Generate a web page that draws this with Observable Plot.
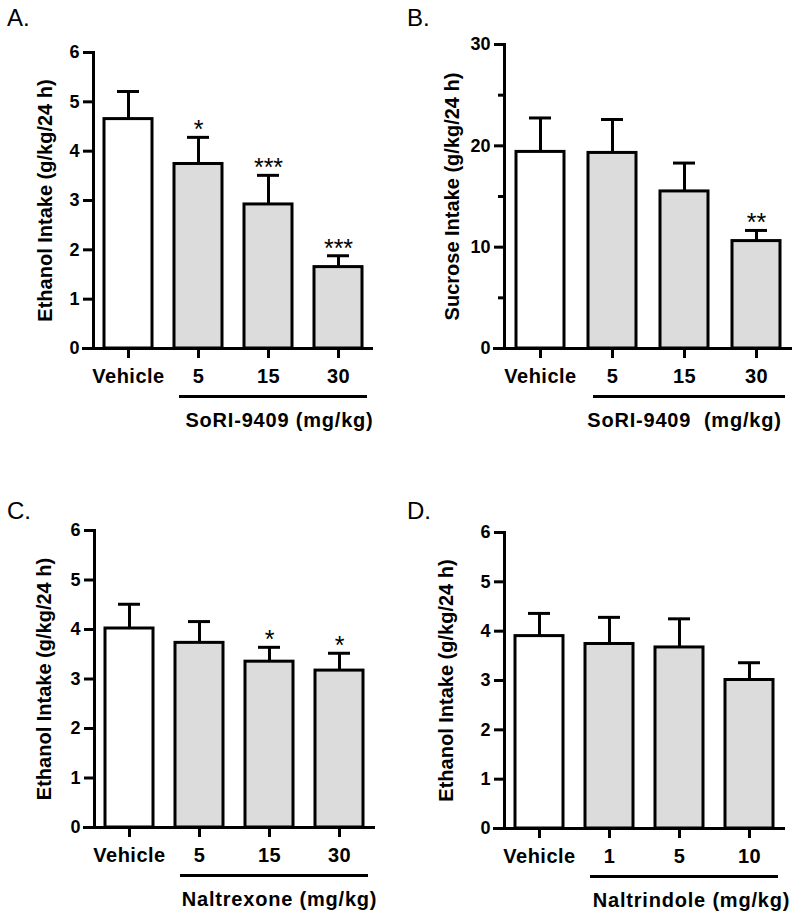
<!DOCTYPE html>
<html>
<head>
<meta charset="utf-8">
<script src="https://cdn.jsdelivr.net/npm/d3@7"></script>
<script src="https://cdn.jsdelivr.net/npm/@observablehq/plot@0.6"></script>
<style>
  html, body { margin: 0; padding: 0; background: #fff; }
  #root { position: relative; width: 800px; height: 916px; background: #fff; overflow: hidden; }
  .panel { position: absolute; }
  .letter { position: absolute; font-family: "Liberation Sans", Arial, sans-serif; font-size: 24px; line-height: 24px; color: #000; }
  .panel svg g[aria-label="x-axis tick label"] text { letter-spacing: 0.5px; }
  .panel svg .grp text { letter-spacing: 0.8px; }
</style>
</head>
<body>
<div id="root"></div>
<script>
// ---- data ----
const catsA = ["Vehicle", "5", "15", "30"];
const meansA = [4.65, 3.74, 2.92, 1.65];
const semA = [0.56, 0.54, 0.59, 0.23];
const starsA = ["", "*", "***", "***"];

const catsB = ["Vehicle", "5", "15", "30"];
const meansB = [19.4, 19.3, 15.5, 10.6];
const semB = [3.35, 3.3, 2.8, 1.05];
const starsB = ["", "", "", "**"];

const catsC = ["Vehicle", "5", "15", "30"];
const meansC = [4.02, 3.73, 3.35, 3.17];
const semC = [0.49, 0.43, 0.29, 0.35];
const starsC = ["", "", "*", "*"];

const catsD = ["Vehicle", "1", "5", "10"];
const meansD = [3.90, 3.74, 3.67, 3.01];
const semD = [0.46, 0.54, 0.58, 0.35];
const starsD = ["", "", "", ""];

const yTicksEthanol = [0, 1, 2, 3, 4, 5, 6];
const yTicksSucrose = [0, 10, 20, 30];
const yMinorSucrose = [5, 15, 25];

const titleEthanol = "Ethanol Intake (g/kg/24 h)";
const titleSucrose = "Sucrose Intake (g/kg/24 h)";
const groupA = "SoRI-9409 (mg/kg)";
const groupB = "SoRI-9409  (mg/kg)";
const groupC = "Naltrexone (mg/kg)";
const groupD = "Naltrindole (mg/kg)";

// ---- drawing ----
const FONT = '"Liberation Sans", Arial, sans-serif';

function rowsOf(cats, means, sems, stars) {
  return cats.map((c, i) => ({
    cat: c, mean: means[i], sem: sems[i], star: stars[i],
    kind: i === 0 ? "vehicle" : "drug"
  }));
}

function panel(cfg) {
  const rows = rowsOf(cfg.cats, cfg.means, cfg.sems, cfg.stars);
  const span = [{from: cfg.cats[1], to: cfg.cats[cfg.cats.length - 1]}];
  const marks = [
    Plot.barY(rows, {x: "cat", y: "mean", fill: "kind", stroke: "black", strokeWidth: 3}),
    Plot.ruleX(rows, {x: "cat", y1: "mean", y2: d => d.mean + d.sem, strokeWidth: 3}),
    Plot.tickY(rows, {x: "cat", y: d => d.mean + d.sem, strokeWidth: 3, insetLeft: 13, insetRight: 13}),
    Plot.text(rows.filter(d => d.star), {x: "cat", y: d => d.mean + d.sem, text: "star", dy: -7, lineAnchor: "middle", fontSize: 25, fontWeight: "normal"}),
    Plot.ruleY([0], {strokeWidth: 3, insetLeft: -11}),
    Plot.frame({anchor: "left", strokeWidth: 3}),
    Plot.axisY(cfg.yTicks, {tickSize: 10, tickPadding: 4, fontSize: 18, strokeWidth: 3, label: null, tickFormat: d => String(d)}),
    Plot.axisX({tickSize: 10, tickPadding: 10, fontSize: 20, strokeWidth: 3, label: null}),
    Plot.text([cfg.yTitle], {frameAnchor: "left", textAnchor: "middle", rotate: -90, dx: cfg.titleDx, text: d => d, fontSize: 20}),
    Plot.ruleY(span, {x1: "from", x2: "to", y: () => 0, dy: 48, strokeWidth: 3, insetLeft: 5, insetRight: -5}),
    Plot.text([cfg.group], {x: () => cfg.groupAt, y: () => 0, dy: 72, dx: cfg.groupDx, text: d => d, fontSize: 20, lineAnchor: "middle", className: "grp"})
  ];
  if (cfg.yMinor) {
    marks.push(Plot.axisY(cfg.yMinor, {tickSize: 6, strokeWidth: 3, text: null, label: null}));
  }
  const svg = Plot.plot({
    width: cfg.width, height: cfg.height,
    marginTop: cfg.mt, marginBottom: cfg.mb, marginLeft: cfg.ml, marginRight: cfg.mr,
    style: {fontFamily: FONT, fontSize: "20px", fontWeight: "bold", background: "transparent", color: "#000", overflow: "visible"},
    x: {domain: cfg.cats, paddingInner: cfg.pad, paddingOuter: cfg.pad / 2, axis: null},
    y: {domain: cfg.yDomain, axis: null},
    color: {domain: ["vehicle", "drug"], range: ["#ffffff", "#dcdcdc"]},
    marks
  });
  const wrap = document.createElement("div");
  wrap.className = "panel";
  wrap.style.left = cfg.left + "px";
  wrap.style.top = cfg.top + "px";
  wrap.appendChild(svg);
  document.getElementById("root").appendChild(wrap);

  const lt = document.createElement("div");
  lt.className = "letter";
  lt.textContent = cfg.letter;
  lt.style.left = (cfg.left + 7) + "px";
  lt.style.top = (cfg.top + cfg.letterTop) + "px";
  document.getElementById("root").appendChild(lt);
}

panel({letter: "A.", left: 0, top: 0, width: 400, height: 440, mt: 52, mb: 92, ml: 93, mr: 27, letterTop: 6,
  cats: catsA, means: meansA, sems: semA, stars: starsA, yDomain: [0, 6], yTicks: yTicksEthanol,
  yTitle: titleEthanol, titleDx: -48, group: groupA, groupAt: "15", groupDx: 11, pad: 0.31});

panel({letter: "B.", left: 400, top: 0, width: 400, height: 440, mt: 44, mb: 92, ml: 104, mr: 8, letterTop: 6,
  cats: catsB, means: meansB, sems: semB, stars: starsB, yDomain: [0, 30], yTicks: yTicksSucrose, yMinor: yMinorSucrose,
  yTitle: titleSucrose, titleDx: -52, group: groupB, groupAt: "15", groupDx: 0, pad: 0.33});

panel({letter: "C.", left: 0, top: 440, width: 400, height: 476, mt: 90, mb: 89, ml: 94, mr: 25, letterTop: 59,
  cats: catsC, means: meansC, sems: semC, stars: starsC, yDomain: [0, 6], yTicks: yTicksEthanol,
  yTitle: titleEthanol, titleDx: -50, group: groupC, groupAt: "15", groupDx: 10, pad: 0.31});

panel({letter: "D.", left: 400, top: 440, width: 400, height: 476, mt: 92, mb: 88, ml: 104, mr: 15, letterTop: 59,
  cats: catsD, means: meansD, sems: semD, stars: starsD, yDomain: [0, 6], yTicks: yTicksEthanol,
  yTitle: titleEthanol, titleDx: -58, group: groupD, groupAt: "5", groupDx: 12, pad: 0.31});
</script>
</body>
</html>
